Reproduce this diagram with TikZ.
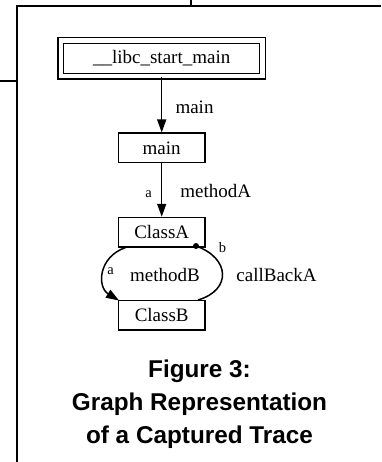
\documentclass[tikz,border=0pt]{standalone}
\usepackage{fontspec}
\setmainfont{Liberation Serif}
\newfontfamily\capfont{Liberation Sans}
\usetikzlibrary{arrows.meta}
\begin{document}
\begin{tikzpicture}[x=1pt,y=-1pt,
  fn/.style={draw,line width=1.5pt,rectangle,minimum width=86.7pt,minimum height=29.5pt,inner sep=0pt,font=\fontsize{19}{20}\selectfont},
  call/.style={line width=1.5pt,-{Triangle[length=13pt,width=9pt]}},
  lbl/.style={font=\fontsize{19}{20}\selectfont,inner sep=0pt},
  sml/.style={font=\fontsize{14.5}{15}\selectfont,inner sep=0pt},
  frame/.style={line width=2pt}]
\useasboundingbox (0,0) rectangle (381,462);
% frame lines
\coordinate (tl) at (17.3,5.7);
\coordinate (tr) at (381,5.7);
\coordinate (tm) at (190.7,5.7);
\coordinate (tmtop) at (190.7,0);
\coordinate (bl) at (17.3,462);
\coordinate (lm) at (17.3,81);
\coordinate (lmleft) at (0,81);
\draw[frame] (tr) -- (tl) -- (bl);
\draw[frame] (tm) -- (tmtop);
\draw[frame] (lm) -- (lmleft);
% nodes
\node[draw,line width=1.4pt,double,double distance=4.4pt,minimum width=201.7pt,minimum height=35.5pt,inner sep=0pt,font=\fontsize{19}{20}\selectfont] (start) at (161.7,58.4) {\_\_libc\_start\_main};
\node[fn] (main) at (161.7,148) {main};
\node[fn] (A) at (161.7,232.3) {ClassA};
\node[fn] (B) at (161.7,315) {ClassB};
% edges
\draw[call] (start.south -| main.north) -- (main.north);
\draw[call] (main.south) -- (A.north);
\coordinate (Lstart) at (126,247.3);
\coordinate (Lend) at (119,300.5);
\draw[call] (Lstart) .. controls (98,257) and (97,287) .. (Lend);
\coordinate (Rstart) at (196,246);
\coordinate (Rend) at (198,300);
\draw[line width=1.5pt] (Rstart) .. controls (230,258) and (232,290) .. (Rend);
\fill (Rstart) circle (3pt);
% labels
\node[lbl] (lmain) at (194.5,107.5) {main};
\node[lbl] (lmA) at (215.7,191) {methodA};
\node[sml] (la1) at (148.5,194) {a};
\node[lbl] (lmB) at (165,275) {methodB};
\node[sml] (la2) at (110.5,271) {a};
\node[sml] (lb) at (222.5,247.5) {b};
\node[lbl] (lcb) at (276.5,275) {callBackA};
% caption
\node[font=\capfont\bfseries\fontsize{24.3}{33}\selectfont,align=center,inner sep=0pt] (cap) at (199.5,404.5) {Figure 3:\\Graph Representation\\of a Captured Trace};
\end{tikzpicture}
\end{document}
